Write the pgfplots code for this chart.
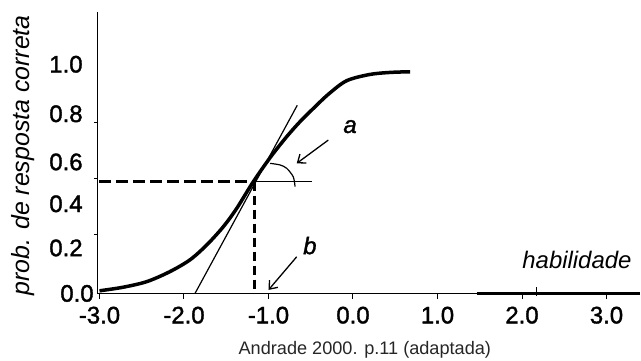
\documentclass[border=0pt]{standalone}
\usepackage{pgfplots}
\pgfplotsset{compat=1.18}
\usetikzlibrary{arrows.meta}
\usepackage{fontspec}
\setmainfont{Liberation Sans}
\newfontfamily\heavyf{Liberation Sans}[FakeBold=1.5]
\newcommand{\bigf}{\fontsize{24}{24}\selectfont}
\begin{document}
\begin{tikzpicture}
\begin{axis}[
  scale only axis, width=542.5bp, height=281.1bp,
  xmin=-3.02, xmax=3.4, ymin=0, ymax=1.255,
  axis lines=left, axis line style={line width=1.3bp, -},
  clip=false,
  tick align=outside, major tick length=5bp,
  tick style={black, line width=1bp},
  xtick={-3,-2,-1,0,1,2,3},
  xticklabels={-3.0,-2.0,-1.0,0.0,1.0,2.0,3.0},
  ytick={0.002,0.205,0.402,0.589,0.804,1.025},
  yticklabels={0.0\hspace*{-11bp},0.2,0.4,0.6,0.8,1.0},
  ytick style={draw=none},
  xticklabel style={font=\heavyf\bigf, anchor=north, inner sep=0pt, text height=17.2bp, text depth=0pt, yshift=-7.5bp},
  yticklabel style={font=\heavyf\bigf, anchor=east, inner sep=0pt, text height=17.2bp, text depth=0pt, xshift=-10bp},
]
% logistic curve
\addplot[line width=3.5bp, smooth, tension=0.5] coordinates {
(-3.0,0.012) (-2.72,0.028) (-2.44,0.053) (-2.17,0.097) (-1.93,0.15)
(-1.73,0.217) (-1.535,0.298) (-1.376,0.38) (-1.18,0.499) (-0.974,0.61)
(-0.785,0.70) (-0.62,0.77) (-0.489,0.819) (-0.29,0.89) (-0.075,0.95)
(0.2,0.978) (0.44,0.987) (0.675,0.99)};
% tangent
\addplot[line width=1.2bp] coordinates {(-1.87,0) (-0.66,0.84)};
% horizontal solid line
\addplot[line width=1.3bp] coordinates {(-1.18,0.499) (-0.485,0.499)};
% dashed lines
\addplot[line width=2.5bp, dash pattern=on 12bp off 5bp] coordinates {(-3.0,0.499) (-1.18,0.499)};
\addplot[line width=3bp, dash pattern=on 9bp off 5bp] coordinates {(-1.17,0.499) (-1.17,0)};
% angle arc
\addplot[line width=1.2bp, smooth] coordinates {(-0.982,0.581) (-0.864,0.574) (-0.785,0.559) (-0.707,0.521) (-0.686,0.477)};
% arrows
\addplot[line width=1.3bp, -{Straight Barb[length=7bp,width=11bp]}] coordinates {(-0.292,0.685) (-0.666,0.581)};
\addplot[line width=1.3bp, -{Straight Barb[length=7bp,width=11bp]}] coordinates {(-0.666,0.164) (-1.0,0.016)};
% axis marks
\addplot[line width=1.6bp] coordinates {(2.17,-0.012) (2.17,0.028)};
\addplot[line width=2.2bp] coordinates {(1.47,0) (3.4,0)};
\draw[line width=1bp] (axis cs:-3.02,0.2656) -- ++(-4bp,0bp);
\draw[line width=1bp] (axis cs:-3.02,0.5156) -- ++(-4bp,0bp);
\draw[line width=1bp] (axis cs:-3.02,0.7656) -- ++(-4bp,0bp);
% labels
\node[font=\heavyf\bigf\itshape] at (axis cs:-0.035,0.745) {a};
\node[font=\heavyf\bigf\itshape] at (axis cs:-0.51,0.214) {b};
\node[font=\bigf\itshape, anchor=base] at (axis cs:2.65,0.1125) {habilidade};
\node[font=\fontsize{25}{25}\selectfont\itshape, rotate=90] at (axis cs:-3.905,0.616) {prob. de resposta correta};
\node[font=\fontsize{18.2}{18}\selectfont, text=black!85] at (axis cs:0.14,-0.252) {Andrade 2000. p.11 (adaptada)};
\end{axis}
\pgfresetboundingbox
\path[use as bounding box] (-97.8bp,-67.5bp) rectangle (543.2bp,293.5bp);
\end{tikzpicture}
\end{document}
